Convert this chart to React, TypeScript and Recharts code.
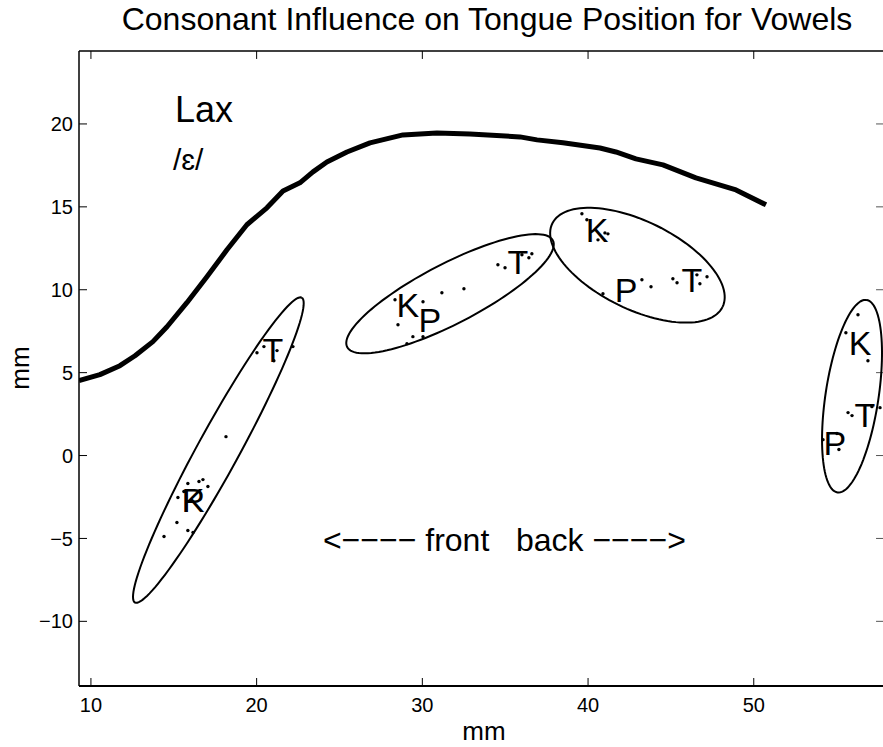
import React from 'react';
import { ComposedChart, Scatter, XAxis, YAxis, ReferenceLine } from 'recharts';

const FONT = '"Liberation Sans", Arial, Helvetica, sans-serif';

const xTicks = [10, 20, 30, 40, 50];
const yTicks = [-10, -5, 0, 5, 10, 15, 20];
const xDomain: [number, number] = [9.28, 57.86];
const yDomain: [number, number] = [-13.9, 24.4];

// tongue contour (thick line)
const tongue = [
  { x: 9.28, y: 4.52 }, { x: 10.54, y: 4.88 }, { x: 11.75, y: 5.42 }, { x: 12.66, y: 6.02 },
  { x: 13.74, y: 6.87 }, { x: 14.59, y: 7.77 }, { x: 15.79, y: 9.22 }, { x: 17.0, y: 10.78 },
  { x: 18.21, y: 12.41 }, { x: 19.41, y: 13.92 }, { x: 20.62, y: 14.94 }, { x: 21.59, y: 15.96 },
  { x: 22.61, y: 16.45 }, { x: 23.4, y: 17.11 }, { x: 24.24, y: 17.71 }, { x: 25.45, y: 18.31 },
  { x: 26.84, y: 18.86 }, { x: 28.83, y: 19.34 }, { x: 30.88, y: 19.46 }, { x: 32.87, y: 19.4 },
  { x: 35.89, y: 19.22 }, { x: 36.92, y: 19.04 }, { x: 38.49, y: 18.86 }, { x: 40.72, y: 18.55 },
  { x: 41.68, y: 18.31 }, { x: 42.89, y: 17.89 }, { x: 44.52, y: 17.53 }, { x: 46.51, y: 16.75 },
  { x: 48.93, y: 16.02 }, { x: 50.74, y: 15.12 },
];

// individual token points per cluster
const dots1 = [
  { x: 15.85, y: -1.69 }, { x: 16.52, y: -1.57 }, { x: 16.76, y: -1.45 }, { x: 17.06, y: -1.87 },
  { x: 15.25, y: -2.53 }, { x: 15.61, y: -2.17 }, { x: 15.19, y: -4.04 }, { x: 14.41, y: -4.88 },
  { x: 15.85, y: -4.52 }, { x: 16.16, y: -4.64 }, { x: 18.15, y: 1.14 }, { x: 20.02, y: 6.2 },
  { x: 20.44, y: 6.57 }, { x: 21.23, y: 6.33 }, { x: 21.04, y: 5.72 }, { x: 22.19, y: 6.57 },
];
const dots2 = [
  { x: 28.35, y: 9.4 }, { x: 28.53, y: 7.89 }, { x: 29.07, y: 6.75 }, { x: 29.43, y: 7.17 },
  { x: 30.04, y: 7.17 }, { x: 30.04, y: 9.28 }, { x: 31.18, y: 9.82 }, { x: 32.51, y: 10.06 },
  { x: 34.56, y: 11.51 }, { x: 34.99, y: 11.33 }, { x: 36.01, y: 12.11 }, { x: 36.43, y: 11.93 },
  { x: 36.61, y: 12.17 },
];
const dots3 = [
  { x: 39.63, y: 14.58 }, { x: 39.93, y: 14.22 }, { x: 40.6, y: 13.01 }, { x: 41.02, y: 13.43 },
  { x: 41.2, y: 13.37 }, { x: 40.9, y: 9.76 }, { x: 43.25, y: 10.6 }, { x: 43.8, y: 10.18 },
  { x: 45.12, y: 10.66 }, { x: 45.37, y: 10.42 }, { x: 46.57, y: 10.9 }, { x: 47.18, y: 10.78 },
  { x: 46.75, y: 10.36 },
];
const dots4 = [
  { x: 56.29, y: 8.49 }, { x: 55.56, y: 7.41 }, { x: 56.89, y: 5.72 }, { x: 55.69, y: 2.59 },
  { x: 55.93, y: 2.41 }, { x: 57.13, y: 2.95 }, { x: 57.62, y: 2.89 }, { x: 54.18, y: 0.96 },
  { x: 55.02, y: 1.33 }, { x: 55.14, y: 0.36 },
];

// consonant mean labels
const consonantLabels = [
  { x: 16.16, y: -2.65, label: 'K' }, { x: 16.16, y: -2.65, label: 'P' }, { x: 20.98, y: 6.39, label: 'T' },
  { x: 29.13, y: 9.1, label: 'K' }, { x: 30.46, y: 8.19, label: 'P' }, { x: 35.77, y: 11.69, label: 'T' },
  { x: 40.54, y: 13.61, label: 'K' }, { x: 42.29, y: 10.0, label: 'P' }, { x: 46.27, y: 10.6, label: 'T' },
  { x: 56.41, y: 6.81, label: 'K' }, { x: 54.9, y: 0.78, label: 'P' }, { x: 56.71, y: 2.47, label: 'T' },
];

// ellipse parameters (center, semi-axes in mm, rotation in degrees)
const ellipseCx = [17.69, 31.67, 42.98, 55.93];
const ellipseCy = [0.33, 9.76, 11.48, 3.58];
const ellipseA = [10.48, 6.99, 5.72, 5.87];
const ellipseB = [1.25, 1.81, 2.65, 1.6];
const ellipseAngle = [61.3, 27.4, -26.1, 81.4];

// annotations
const laxText = [{ x: 15.07, y: 20.14, label: 'Lax' }];
const vowelText = [{ x: 14.95, y: 17.23, label: '/\u025B/' }];
const dirText = [{ x: 24.0, y: -5.77, label: '<\u2212\u2212\u2212\u2212 front   back \u2212\u2212\u2212\u2212>' }];

// inward tick length for the box's top/right sides, in data units (~8px)
const TICK_LEN_X = 0.48;
const TICK_LEN_Y = 0.48;

function ellipsePath(i: number) {
  const pts: { x: number; y: number }[] = [];
  const th = (ellipseAngle[i] * Math.PI) / 180;
  const n = 120;
  for (let k = 0; k <= n; k++) {
    const t = (2 * Math.PI * k) / n;
    const ex = ellipseA[i] * Math.cos(t);
    const ey = ellipseB[i] * Math.sin(t);
    pts.push({
      x: ellipseCx[i] + ex * Math.cos(th) - ey * Math.sin(th),
      y: ellipseCy[i] + ex * Math.sin(th) + ey * Math.cos(th),
    });
  }
  return pts;
}

const fmt = (v: number) => (v < 0 ? '\u2212' + Math.abs(v) : String(v));

const Empty = () => <g />;
const Dot = (p: any) => <circle cx={p.cx} cy={p.cy} r={1.7} fill="#000" />;
const Letter = (p: any) => (
  <text x={p.cx} y={p.cy} dy="0.36em" textAnchor="middle" fontSize={34} fontFamily={FONT} fill="#000">
    {p.payload.label}
  </text>
);
const makeText = (size: number) => (p: any) => (
  <text x={p.cx} y={p.cy} textAnchor="start" fontSize={size} fontFamily={FONT} fill="#000" style={{ whiteSpace: 'pre' }}>
    {p.payload.label}
  </text>
);
const LaxShape = makeText(36);
const VowelShape = makeText(30);
const DirShape = makeText(32);

export default function App() {
  const tickStyle = { fontSize: 20, fontFamily: FONT, fill: '#000' };
  return (
    <div style={{ position: 'absolute', left: 0, top: 0, width: 883, height: 747, overflow: 'hidden', background: '#fff', fontFamily: FONT }}>
      <ComposedChart width={900} height={747} margin={{ top: 51, right: 16, bottom: 31, left: 0 }}>
        <XAxis
          xAxisId={0}
          dataKey="x"
          type="number"
          domain={xDomain}
          allowDataOverflow
          ticks={xTicks}
          tickFormatter={fmt}
          orientation="bottom"
          height={30}
          tickSize={-8}
          tickMargin={20}
          tick={tickStyle}
          axisLine={{ stroke: '#000', strokeWidth: 2 }}
          tickLine={{ stroke: '#000', strokeWidth: 1 }}
        />
        <YAxis
          yAxisId={0}
          dataKey="y"
          type="number"
          domain={yDomain}
          allowDataOverflow
          ticks={yTicks}
          tickFormatter={fmt}
          orientation="left"
          width={79}
          tickSize={-8}
          tickMargin={14}
          tick={tickStyle}
          axisLine={{ stroke: '#000', strokeWidth: 1.5 }}
          tickLine={{ stroke: '#000', strokeWidth: 1 }}
        />
        {/* box: top and right edges with inward ticks */}
        <ReferenceLine y={yDomain[1]} stroke="#000" strokeWidth={1.5} ifOverflow="visible" />
        <ReferenceLine x={xDomain[1]} stroke="#000" strokeWidth={1.5} ifOverflow="visible" />
        {xTicks.map((t) => (
          <ReferenceLine
            key={'tt' + t}
            segment={[{ x: t, y: yDomain[1] }, { x: t, y: yDomain[1] - TICK_LEN_Y }]}
            stroke="#000"
            strokeWidth={1}
            ifOverflow="visible"
          />
        ))}
        {yTicks.map((t) => (
          <ReferenceLine
            key={'rt' + t}
            segment={[{ x: xDomain[1], y: t }, { x: xDomain[1] - TICK_LEN_X, y: t }]}
            stroke="#555"
            strokeWidth={1}
            ifOverflow="visible"
          />
        ))}
        <Scatter
          data={tongue}
          shape={Empty}
          line={{ stroke: '#000', strokeWidth: 5, strokeLinejoin: 'round' }}
          lineJointType="linear"
          isAnimationActive={false}
        />
        {[0, 1, 2, 3].map((i) => (
          <Scatter
            key={'e' + i}
            data={ellipsePath(i)}
            shape={Empty}
            line={{ stroke: '#000', strokeWidth: 2 }}
            lineJointType="linear"
            isAnimationActive={false}
          />
        ))}
        <Scatter data={dots1} shape={Dot} isAnimationActive={false} />
        <Scatter data={dots2} shape={Dot} isAnimationActive={false} />
        <Scatter data={dots3} shape={Dot} isAnimationActive={false} />
        <Scatter data={dots4} shape={Dot} isAnimationActive={false} />
        <Scatter data={consonantLabels} shape={Letter} isAnimationActive={false} />
        <Scatter data={laxText} shape={LaxShape} isAnimationActive={false} />
        <Scatter data={vowelText} shape={VowelShape} isAnimationActive={false} />
        <Scatter data={dirText} shape={DirShape} isAnimationActive={false} />
      </ComposedChart>
      <svg width={883} height={747} style={{ position: 'absolute', left: 0, top: 0, pointerEvents: 'none' }}>
        <text x={487} y={30} textAnchor="middle" fontSize={32} fontFamily={FONT} fill="#000">
          Consonant Influence on Tongue Position for Vowels
        </text>
        <text x={484} y={740} textAnchor="middle" fontSize={26} fontFamily={FONT} fill="#000">
          mm
        </text>
        <text x={29} y={368} textAnchor="middle" fontSize={26} fontFamily={FONT} fill="#000" transform="rotate(-90 29 368)">
          mm
        </text>
      </svg>
    </div>
  );
}
